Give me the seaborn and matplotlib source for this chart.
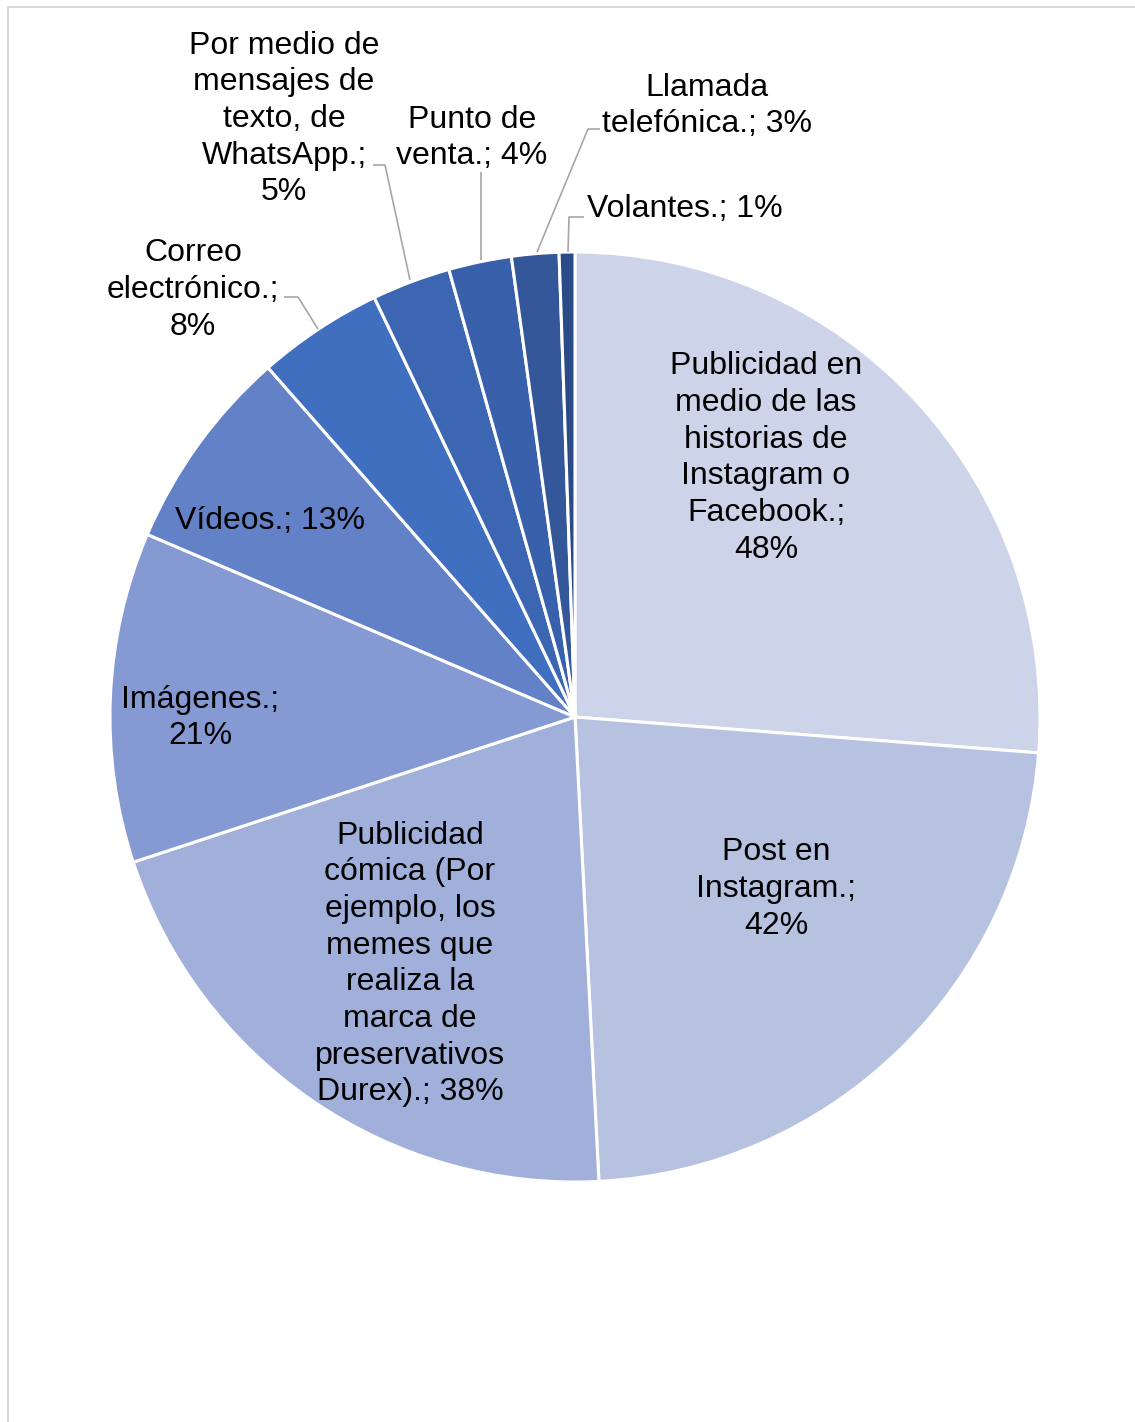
import matplotlib
matplotlib.use("Agg")
import matplotlib.pyplot as plt
import seaborn as sns
from matplotlib.lines import Line2D

sns.set_theme(style="white")
plt.rcParams['font.family'] = ['Liberation Sans', 'DejaVu Sans']

# ---- data ----
categories = [
    "Publicidad en\nmedio de las\nhistorias de\nInstagram o\nFacebook.",
    "Post en\nInstagram.",
    "Publicidad\ncómica (Por\nejemplo, los\nmemes que\nrealiza la\nmarca de\npreservativos\nDurex).",
    "Imágenes.",
    "Vídeos.",
    "Correo\nelectrónico.",
    "Por medio de\nmensajes de\ntexto, de\nWhatsApp.",
    "Punto de\nventa.",
    "Llamada\ntelefónica.",
    "Volantes.",
]
values = [48, 42, 38, 21, 13, 8, 5, 4, 3, 1]
label_texts = [
    "Publicidad en\nmedio de las\nhistorias de\nInstagram o\nFacebook.;\n48%",
    "Post en\nInstagram.;\n42%",
    "Publicidad\ncómica (Por\nejemplo, los\nmemes que\nrealiza la\nmarca de\npreservativos\nDurex).; 38%",
    "Imágenes.;\n21%",
    "Vídeos.; 13%",
    "Correo\nelectrónico.;\n8%",
    "Por medio de\nmensajes de\ntexto, de\nWhatsApp.;\n5%",
    "Punto de\nventa.; 4%",
    "Llamada\ntelefónica.; 3%",
    "Volantes.; 1%",
]
colors = ["#CDD3E8", "#B6C2E0", "#A1B0DA", "#8599D2", "#6281C6",
          "#416FBF", "#3C66B2", "#3960AA", "#34579A", "#2A4A88"]

# ---- layout (pixel coordinates, y measured from top) ----
W, H = 1135, 1422
cx, cy, R = 575, 717, 465
label_pos = [(766, 458), (776, 889), (410, 964), (200, 718), (270, 521),
             (193, 290), (284, 119), (472, 138), (707, 106), (685, 209)]
leaders = {
    5: [(318, 329), (298, 297), (284, 297)],
    6: [(410, 280), (385, 165), (373, 165)],
    7: [(481, 260), (481, 172)],
    8: [(537, 252), (588, 129), (600, 129)],
    9: [(568, 252), (569, 217), (584, 217)],
}

fig = plt.figure(figsize=(W / 100, H / 100), dpi=100)
ax = fig.add_axes([0, 0, 1, 1])
ax.set_xlim(0, W)
ax.set_ylim(0, H)
ax.axis("off")

ax.pie(values, colors=colors, startangle=90, counterclock=False,
       center=(cx, H - cy), radius=R,
       wedgeprops=dict(edgecolor="white", linewidth=2.2))
ax.set_xlim(0, W)
ax.set_ylim(0, H)
ax.set_aspect("equal")

for i, pts in leaders.items():
    xs = [p[0] for p in pts]
    ys = [H - p[1] for p in pts]
    ax.plot(xs, ys, color="#A6A6A6", lw=1.2, solid_capstyle="butt")

for txt, (x, y) in zip(label_texts, label_pos):
    ax.text(x, H - y, txt, ha="center", va="center", fontsize=23,
            color="black", linespacing=1.29)

# frame lines (left and top)
fig.add_artist(Line2D([8 / W, 8 / W], [0, 1 - 7 / H], color="#D9D9D9", lw=1.5))
fig.add_artist(Line2D([8 / W, 1], [1 - 7 / H, 1 - 7 / H], color="#D9D9D9", lw=1.5))

fig.savefig("out.png", dpi=100, facecolor="white")
